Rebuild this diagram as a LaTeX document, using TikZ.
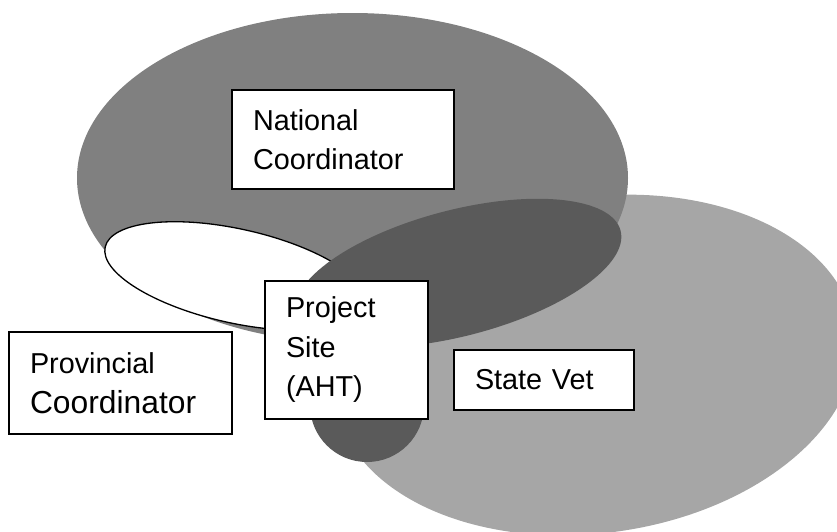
\documentclass[tikz,border=0pt]{standalone}
\usepackage{fontspec}
\setmainfont{Liberation Sans}
\definecolor{midgray}{RGB}{128,128,128}
\definecolor{palegray}{RGB}{166,166,166}
\definecolor{deepgray}{RGB}{90,90,90}
\begin{document}
\begin{tikzpicture}[x=1pt,y=-1pt,
  labelbox/.style={draw=black, line width=1.6pt, fill=white, align=left,
    inner xsep=21pt, inner ysep=0pt, font=\fontsize{28.8}{39.5}\selectfont}]
\useasboundingbox (0,0) rectangle (837,531);
\clip (0,0) rectangle (837,531);
% light gray ellipse (State Vet)
\fill[palegray, rotate around={8:(595,365)}] (595,365) ellipse [x radius=262, y radius=168];
% mid gray ellipse (National)
\fill[midgray] (352.5,178) ellipse [x radius=275.5, y radius=165];
% white ellipse (Provincial)
\draw[line width=1.3pt, fill=white, rotate around={-12.5:(236,276)}] (236,276) ellipse [x radius=134, y radius=47];
% dark ellipse
\fill[deepgray, rotate around={14.6:(458,273)}] (458,273) ellipse [x radius=168, y radius=63];
% dark blob
\fill[deepgray] (367,405) circle [radius=57];
% boxes
\node[labelbox, text width=180pt, minimum height=99pt] (nat) at (343,139.5) {National\\Coordinator};
\node[labelbox, text width=181pt, minimum height=102pt] (prov) at (120.5,383) {Provincial\\{\fontsize{31.8}{39.5}\selectfont Coordinator}};
\node[labelbox, text width=121pt, minimum height=138pt] (site) at (346.5,350) {Project\\Site\\(AHT)};
\node[labelbox, text width=138pt, minimum height=60pt] (vet) at (544,380) {State Vet};
\end{tikzpicture}
\end{document}
